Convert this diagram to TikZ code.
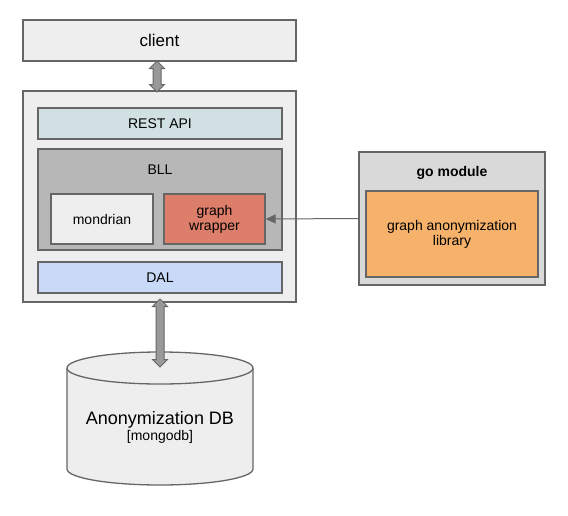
\documentclass[tikz,border=0pt]{standalone}
\usepackage{fontspec}
\setmainfont{Liberation Sans}
\usetikzlibrary{arrows.meta,shapes.arrows}
\definecolor{edgegray}{HTML}{666666}
\definecolor{boxgray}{HTML}{EEEEEE}
\definecolor{bllgray}{HTML}{B7B7B7}
\definecolor{modgray}{HTML}{D9D9D9}
\definecolor{restblue}{HTML}{D0E0E3}
\definecolor{dalblue}{HTML}{C9DAF8}
\definecolor{wrapred}{HTML}{DD7E6B}
\definecolor{liborange}{HTML}{F6B26B}
\definecolor{arrgray}{HTML}{999999}
\newcommand{\fsz}[1]{\fontsize{#1}{#1}\selectfont}

\begin{document}
\begin{tikzpicture}[x=1pt,y=-1pt,
  layer/.style={draw=edgegray, line width=1.3pt, inner sep=0pt, font=\fsz{14}},
  dblarr/.style={double arrow, draw=edgegray, fill=arrgray, line width=1pt,
    shape border rotate=90, inner sep=3.5pt, double arrow head extend=3.5pt,
    double arrow tip angle=90},
  conn/.style={draw=edgegray, line width=1pt, -{Triangle[length=10pt,width=9pt]}}]
\useasboundingbox (0,0) rectangle (568,515);
% client and application box
\node[layer, fill=boxgray, minimum width=273, minimum height=41, font=\fsz{17}] (client) at (159.5,40.5) {client};
\node[layer, fill=boxgray, minimum width=273, minimum height=211] (app) at (159.5,196.5) {};
\node[layer, fill=restblue, minimum width=244, minimum height=31] (rest) at (160,123.5) {REST API};
\node[layer, fill=bllgray, minimum width=244, minimum height=101] (bll) at (160,199.5) {};
\node[font=\fsz{14}] (blltxt) at (160,170) {BLL};
\node[layer, fill=boxgray, minimum width=102, minimum height=50] (mondrian) at (102,219) {mondrian};
\node[layer, fill=wrapred, minimum width=101, minimum height=50, align=center] (gwrap) at (214.5,219) {graph\\[1pt]wrapper};
\node[layer, fill=dalblue, minimum width=244, minimum height=31] (dal) at (160,277.5) {DAL};
% go module
\node[layer, fill=modgray, minimum width=186, minimum height=133] (gomod) at (452,218.5) {};
\node[font=\bfseries\fsz{14}] (gotxt) at (452,173) {go module};
\node[layer, fill=liborange, minimum width=172, minimum height=86, align=center] (lib) at (452,234) {graph anonymization\\[1pt]library};
% database
\draw[draw=edgegray, fill=boxgray, line width=1.3pt] (67,368) -- (67,469) arc (180:0:93 and 16) -- (253,368);
\draw[draw=edgegray, fill=boxgray, line width=1.3pt] (160,368) ellipse (93 and 16);
\node[align=center, inner sep=0pt] (db) at (160,427) {\fsz{18}Anonymization DB\\[1pt]\fsz{14}[mongodb]};
% connectors
\node[dblarr, minimum height=31] (arrtop) at (157,76.5) {};
\node[dblarr, minimum height=68] (arrbot) at (160,333) {};
\draw[conn] (gomod.west) -- (gwrap.east);
\end{tikzpicture}
\end{document}
